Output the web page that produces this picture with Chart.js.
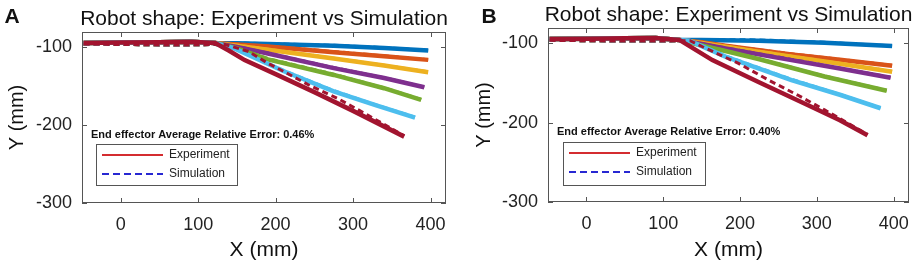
<!DOCTYPE html>
<html>
<head>
<meta charset="utf-8">
<script src="https://cdn.jsdelivr.net/npm/chart.js@4.4.0/dist/chart.umd.min.js"></script>
<style>
  html, body { margin: 0; padding: 0; background: #fff; }
  #wrap { position: relative; width: 920px; height: 266px; }
  canvas { position: absolute; top: 0; }
</style>
</head>
<body>
<div id="wrap">
  <canvas id="chartA" width="460" height="266" style="left:0"></canvas>
  <canvas id="chartB" width="460" height="266" style="left:460px"></canvas>
</div>
<script>
const seriesColors = ["#0072BD", "#D95319", "#EDB120", "#7E2F8E", "#77AC30", "#4DBEEE", "#A2142F"];
const xTicks = [0, 100, 200, 300, 400];
const yTicks = [-300, -200, -100];
const legendLabels = ["Experiment", "Simulation"];

// panel A - straight section before the bend (shared by all shapes)
const flatXA = [-48, 0, 50, 90, 122];
const flatExpA = [-95, -94.5, -94, -93.5, -95];
const flatSimA = [-96.5, -97, -97.5, -97.5, -97];

// panel A - bending part, one row per colour (blue ... dark red)
const expXA = [
  [150, 190, 275, 340, 397],
  [150, 190, 275, 340, 397],
  [150, 190, 275, 340, 397],
  [150, 190, 275, 340, 392],
  [150, 190, 275, 340, 388],
  [146, 210, 275, 330, 380],
  [140, 160, 200, 250, 300, 366]
];
const expYA = [
  [-95.5, -96.5, -98.5, -101.5, -104.7],
  [-97, -99.6, -107, -112, -116.7],
  [-98.5, -103.8, -115, -124, -132.5],
  [-100, -108.5, -127.3, -140, -151.7],
  [-102, -116, -136, -153, -168],
  [-101.7, -131, -157, -175, -190.6],
  [-105, -117, -135, -158, -182, -215]
];
const simXA = [
  [150, 190, 275, 340, 397],
  [150, 190, 275, 340, 397],
  [150, 190, 275, 340, 397],
  [150, 190, 275, 340, 392],
  [150, 190, 275, 340, 388],
  [146, 210, 275, 330, 380],
  [135, 165, 190, 215, 245, 280, 320, 366]
];
const simYA = [
  [-95, -96, -98, -101, -104.5],
  [-96.5, -99, -106, -111.5, -116.5],
  [-98, -103, -114.5, -123.5, -132],
  [-99.5, -108, -126.5, -139.5, -151.5],
  [-101.5, -115, -135, -152.5, -167.5],
  [-101, -130, -156, -174.5, -190],
  [-97, -106, -121, -134, -150, -166, -188, -214]
];

// panel B
const flatXB = [-48, 0, 50, 90, 121];
const flatExpB = [-95, -94.5, -94, -93.5, -96];
const flatSimB = [-96.5, -97, -97.5, -97.5, -97];

const expXB = [
  [150, 224, 310, 398],
  [150, 181, 267, 330, 398],
  [150, 181, 267, 330, 398],
  [150, 181, 267, 330, 396],
  [150, 181, 224, 310, 391],
  [134, 181, 267, 330, 383],
  [164, 224, 288, 330, 366]
];
const expYB = [
  [-96, -97.1, -99.6, -103.8],
  [-99, -103.4, -114.3, -121, -128.5],
  [-100, -104.6, -117, -126, -136],
  [-101, -106.7, -121.4, -132, -143.6],
  [-103, -110, -120, -142, -160],
  [-97, -117, -146.5, -165, -182],
  [-121.4, -149, -178, -197, -216]
];
const simXB = [
  [150, 224, 310, 398],
  [150, 181, 267, 330, 398],
  [150, 181, 267, 330, 398],
  [150, 181, 267, 330, 396],
  [150, 181, 224, 310, 391],
  [134, 181, 267, 330, 383],
  [135, 151, 198, 237, 275, 310, 366]
];
const simYB = [
  [-95.5, -96, -99, -103.5],
  [-98.5, -103, -113.5, -120.5, -128],
  [-99.5, -104, -116.5, -125.5, -135.5],
  [-100.5, -106, -120.5, -131.5, -143],
  [-102.5, -109.5, -119.5, -141.5, -159.5],
  [-96.5, -116, -145.5, -164.5, -181.5],
  [-97, -104.6, -125.5, -146.5, -165.4, -184, -215]
];

const FONT = "'Liberation Sans', Arial, sans-serif";

function toPoints(xs, ys) {
  return xs.map((x, j) => ({ x: x, y: ys[j] }));
}

// chart.js paints dataset 0 last, so the dark red shape goes first
function buildSets(flatX, flatExp, flatSim, expX, expY, simX, simY) {
  const sets = [];
  for (let i = seriesColors.length - 1; i >= 0; i--) {
    const c = seriesColors[i];
    sets.push({
      data: toPoints(flatX, flatExp).concat(toPoints(expX[i], expY[i])),
      borderColor: c,
      borderWidth: 4.5,
      pointRadius: 0,
      tension: 0
    });
    sets.push({
      data: toPoints(flatX, flatSim).concat(toPoints(simX[i], simY[i])),
      borderColor: c,
      borderWidth: 3,
      borderDash: [6, 4],
      pointRadius: 0,
      tension: 0
    });
  }
  return sets;
}

// box, inward ticks, title, letter, error note and legend
const decoPlugin = {
  id: "deco",
  afterDraw(chart, args, o) {
    const { ctx, chartArea: a } = chart;
    const xs = chart.scales.x, ys = chart.scales.y;
    ctx.save();
    ctx.strokeStyle = "#555";
    ctx.lineWidth = 1;
    ctx.strokeRect(a.left + 0.5, a.top + 0.5, a.right - a.left - 1, a.bottom - a.top - 1);
    ctx.beginPath();
    xTicks.forEach(v => {
      const p = Math.round(xs.getPixelForValue(v)) + 0.5;
      ctx.moveTo(p, a.bottom); ctx.lineTo(p, a.bottom - 5);
      ctx.moveTo(p, a.top); ctx.lineTo(p, a.top + 5);
    });
    yTicks.forEach(v => {
      const p = Math.round(ys.getPixelForValue(v)) + 0.5;
      ctx.moveTo(a.left, p); ctx.lineTo(a.left + 5, p);
      ctx.moveTo(a.right, p); ctx.lineTo(a.right - 5, p);
    });
    ctx.stroke();

    ctx.fillStyle = "#111";
    ctx.textBaseline = "alphabetic";
    ctx.textAlign = "center";
    ctx.font = "21px " + FONT;
    ctx.fillText(o.title, (a.left + a.right) / 2, o.titleY);
    ctx.font = "bold 21px " + FONT;
    ctx.fillText(o.letter, o.letterX, o.letterY);

    ctx.textAlign = "left";
    ctx.textBaseline = "middle";
    ctx.font = "bold 11px " + FONT;
    ctx.fillText(o.note, o.noteX, o.noteY);

    const L = o.legend;
    ctx.fillStyle = "#fff";
    ctx.fillRect(L.x, L.y, L.w, L.h);
    ctx.strokeStyle = "#555";
    ctx.strokeRect(L.x + 0.5, L.y + 0.5, L.w, L.h);
    ctx.lineWidth = 2;
    ctx.strokeStyle = "rgb(212,44,48)";
    ctx.beginPath();
    ctx.moveTo(L.x + 6, L.y + 11); ctx.lineTo(L.x + 67, L.y + 11);
    ctx.stroke();
    ctx.strokeStyle = "rgb(40,40,210)";
    ctx.setLineDash([7, 4]);
    ctx.beginPath();
    ctx.moveTo(L.x + 6, L.y + 30); ctx.lineTo(L.x + 67, L.y + 30);
    ctx.stroke();
    ctx.setLineDash([]);
    ctx.fillStyle = "#222";
    ctx.font = "12px " + FONT;
    ctx.fillText(legendLabels[0], L.x + 73, L.y + 11);
    ctx.fillText(legendLabels[1], L.x + 73, L.y + 30);
    ctx.restore();
  }
};

function makeChart(id, sets, lay) {
  return new Chart(document.getElementById(id), {
    type: "line",
    data: { datasets: sets },
    plugins: [decoPlugin],
    options: {
      responsive: false,
      animation: false,
      events: [],
      layout: { padding: { top: lay.top, right: lay.right, left: 0, bottom: 0 } },
      plugins: {
        legend: { display: false },
        tooltip: { enabled: false },
        deco: lay.deco
      },
      scales: {
        x: {
          type: "linear",
          min: -50,
          max: 420,
          afterBuildTicks: s => { s.ticks = xTicks.map(v => ({ value: v })); },
          afterFit: s => { s.height = lay.xh; },
          grid: { display: false, drawTicks: false },
          border: { display: false },
          ticks: { font: { size: 18, family: FONT }, color: "#222", padding: 11, maxRotation: 0 },
          title: { display: true, text: "X (mm)", font: { size: 21, family: FONT }, color: "#111", padding: { top: 0, bottom: 3 } }
        },
        y: {
          type: "linear",
          min: -300,
          max: -81,
          afterBuildTicks: s => { s.ticks = yTicks.map(v => ({ value: v })); },
          afterFit: s => { s.width = lay.yw; },
          grid: { display: false, drawTicks: false },
          border: { display: false },
          ticks: { font: { size: 18, family: FONT }, color: "#222", padding: 10 },
          title: { display: true, text: "Y (mm)", font: { size: 20, family: FONT }, color: "#111", padding: { top: lay.ytp, bottom: 0 } }
        }
      }
    }
  });
}

makeChart("chartA", buildSets(flatXA, flatExpA, flatSimA, expXA, expYA, simXA, simYA), {
  top: 32, right: 14, xh: 63, yw: 82, ytp: 5,
  deco: {
    title: "Robot shape: Experiment vs Simulation", titleY: 25,
    letter: "A", letterX: 12, letterY: 23,
    note: "End effector Average Relative Error: 0.46%", noteX: 91, noteY: 135,
    legend: { x: 96, y: 144, w: 141, h: 41 }
  }
});

makeChart("chartB", buildSets(flatXB, flatExpB, flatSimB, expXB, expYB, simXB, simYB), {
  top: 28, right: 8, xh: 64, yw: 88, ytp: 12,
  deco: {
    title: "Robot shape: Experiment vs Simulation", titleY: 21,
    letter: "B", letterX: 29, letterY: 23,
    note: "End effector Average Relative Error: 0.40%", noteX: 97, noteY: 132,
    legend: { x: 103, y: 142, w: 142, h: 43 }
  }
});
</script>
</body>
</html>
